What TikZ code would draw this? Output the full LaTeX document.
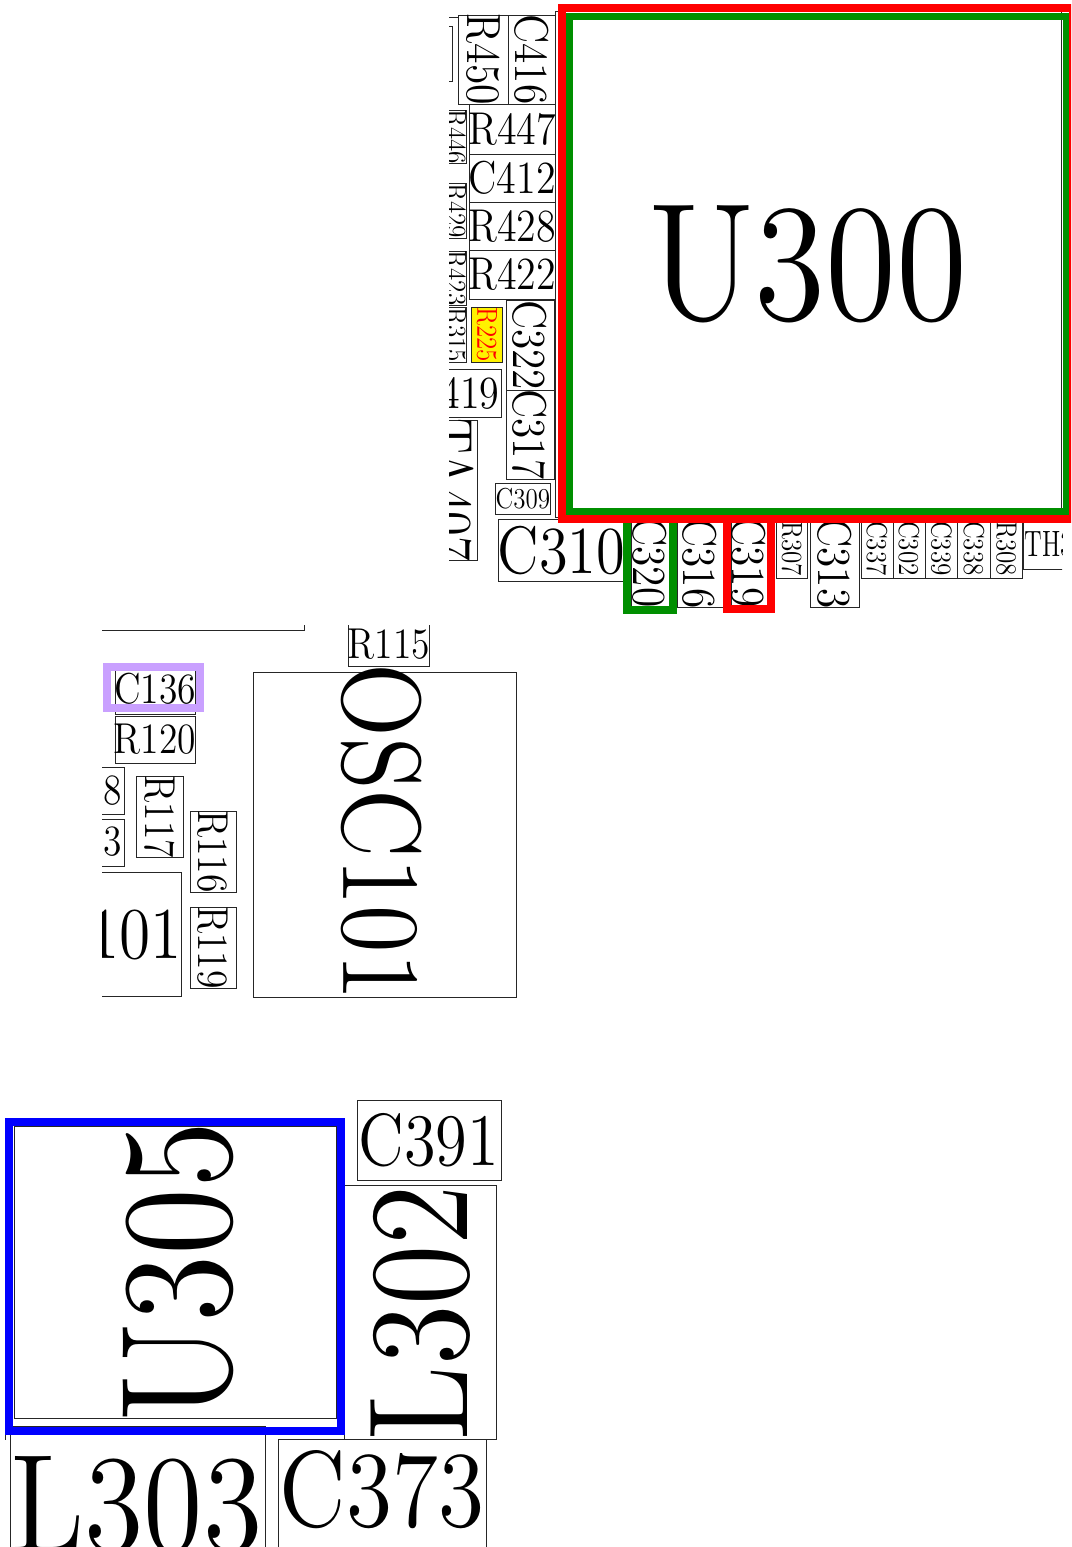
\documentclass[tikz,border=0pt]{standalone}
\usepackage{graphicx}
\definecolor{lavender}{HTML}{C9A0FF}
\definecolor{netgreen}{HTML}{008F00}
\newcommand{\partlbl}[3][.87]{\pgfmathsetmacro\sy{#2/12}\pgfmathsetmacro\sx{\sy*#1}\scalebox{\sx}[\sy]{\fontsize{12}{12}\selectfont #3}}
\tikzset{
  partbox/.style={draw=black!85, line width=.5pt, inner sep=0pt, outer sep=0pt},
  partlabel/.style={inner sep=0pt, outer sep=0pt, text=black},
  partline/.style={draw=black!85, line width=.5pt},
  mark box/.style={line width=#1, line join=miter}
}
\begin{document}
\begin{tikzpicture}[x=.5pt, y=-.5pt]
\useasboundingbox (0,0) rectangle (1071,1547);

% top board area
\begin{scope}
\clip (449,0) rectangle (1062,640);
\draw[partline] (449,17) -- (458,17);
\node[partbox, minimum width=11pt, minimum height=27.5pt] (stub) at (441,53.5) {};
\foreach \name/\xa/\ya/\xb/\yb/\ang/\sz/\txt in {
  Rfourfifty/458/15/508/104/-90/24/R450, Cfoursixteen/508/15/555/104/-90/23.7/C416,
  Rfourfortyseven/469.5/104/555/154/0/23/R447, Cfourtwelve/469.5/154/555/202/0/23/C412,
  Rfourtwentyeight/469.5/202/555/250/0/23/R428, Rfourtwentytwo/469.5/250/555/299.5/0/23/R422,
  Rfourfortysix/445/110/466.7/163/-90/14.4/R446, Rfourtwentynine/445/183/466.7/238/-90/14.4/R429,
  Rfourtwentythree/445/251/466.7/305/-90/14.4/R423, Rthreefifteen/445/307/466.7/362/-90/14.4/R315,
  Cthreetwentytwo/506/300/554/390/-90/23.7/C322, Cthreeseventeen/506/390/554/479/-90/23.7/C317,
  Cthreenine/495/483/550.7/514.7/0/14.4/C309, Cthreeten/498/519/625/581.7/0/33.6/C310,
  Cthreetwenty/631/519/669/606/-90/23.7/C320, Cthreesixteen/677/519/723/607.7/-90/23.7/C316,
  Cthreenineteen/731/519/767/606/-90/23.7/C319, Rthreeseven/776/519/807.7/578/-90/14.4/R307,
  Cthreethirteen/810.7/519/859/607.7/-90/23.7/C313, Cthreethirtyseven/861/519/893/578/-90/14.4/C337,
  Cthreetwo/893/519/925/578/-90/14.4/C302, Cthreethirtynine/925/519/957.7/578/-90/14.4/C339,
  Cthreethirtyeight/957.7/519/990/578/-90/14.4/C338, Rthreeeight/990/519/1022.7/578/-90/14.4/R308,
  Uthreehundred/555/11/1061/517/0/83.4/U300}
{
  \node[partbox, minimum width={(\xb-\xa)*.5pt}, minimum height={(\yb-\ya)*.5pt}] (\name) at ({(\xa+\xb)/2},{(\ya+\yb)/2}) {};
  \node[partlabel, rotate=\ang] (\name text) at (\name) {\partlbl{\sz}{\txt}};
}
\node[partbox, fill=yellow, minimum width=15.3pt, minimum height=27.5pt] (Rtwotwentyfive) at (487,334.5) {};
\node[partlabel, text=red, rotate=-90] (Rtwotwentyfive text) at (Rtwotwentyfive) {\partlbl{14.4}{R225}};
\foreach \name/\xa/\ya/\xb/\yb/\tx/\ty/\ang/\sz/\txt in {
  Cfournineteen/414/369/501.7/417.7/470/393/0/23/419,
  TAfouroseven/430/420.7/477/560.7/453/490/-90/29/TA407}
{
  \node[partbox, minimum width={(\xb-\xa)*.5pt}, minimum height={(\yb-\ya)*.5pt}] (\name) at ({(\xa+\xb)/2},{(\ya+\yb)/2}) {};
  \node[partlabel, rotate=\ang] (\name text) at (\tx,\ty) {\partlbl{\sz}{\txt}};
}
\node[partbox, minimum width=26pt, minimum height=25pt] (THthree) at (1049,544) {};
\node[partlabel] (THthree text) at (1049,544.5) {\partlbl[.68]{18.3}{TH3}};
\end{scope}

% crystal area
\begin{scope}
\clip (102,625) rectangle (517,997.5);
\draw[partline] (102,630.3) -| (304,625);
\foreach \name/\xa/\ya/\xb/\yb/\tx/\ty/\ang/\sz/\txt in {
  Roneonefive/348/620/429.3/666.7/389/644/0/21.6/R115,
  Conethirtysix/115/665/195.5/714/155/689/0/21.6/C136,
  Ronetwenty/115/716/195.5/763/155/739.5/0/21.6/R120,
  Coneeight/90/767.7/124/814/113/791/0/21.6/8,
  Conethree/90/819/124/866/113/842/0/21.6/3,
  Roneseventeen/136.7/776.7/183.7/857.3/160/817/-90/21.6/R117,
  Ronesixteen/190/811/236/892/213/851.5/-90/21.6/R116,
  Ronenineteen/190/907/236/988/213/947.5/-90/21.6/R119,
  Uoneoone/60/872/181.7/996.7/135/935/0/36.5/101,
  OSConeoone/253/672/516/997/382/832/-90/55.7/OSC101}
{
  \node[partbox, minimum width={(\xb-\xa)*.5pt}, minimum height={(\yb-\ya)*.5pt}] (\name) at ({(\xa+\xb)/2},{(\ya+\yb)/2}) {};
  \node[partlabel, rotate=\ang] (\name text) at (\tx,\ty) {\partlbl{\sz}{\txt}};
}
\end{scope}

% power area
\begin{scope}
\clip (0,1090) rectangle (1071,1547);
\draw[partline] (5,1212) -- (5,1440);
\foreach \name/\xa/\ya/\xb/\yb/\tx/\ty/\ang/\sz/\txt in {
  Cthreeninetyone/357.7/1100.7/501/1180/429/1140/0/37/C391,
  Uthreefive/14/1126/336/1418/178/1272/90/78.6/U305,
  Lthreetwo/344/1185/496/1439/421/1313/90/70.8/L302,
  Lthreethree/10.7/1426/265/1570/136.5/1505/0/69.6/L303,
  Cthreeseventythree/278/1439/486.7/1570/382/1490/0/54/C373}
{
  \node[partbox, minimum width={(\xb-\xa)*.5pt}, minimum height={(\yb-\ya)*.5pt}] (\name) at ({(\xa+\xb)/2},{(\ya+\yb)/2}) {};
  \node[partlabel, rotate=\ang] (\name text) at (\tx,\ty) {\partlbl{\sz}{\txt}};
}
\end{scope}

% highlights
\draw[mark box=4pt, draw=netgreen] (627,519) rectangle (673,609.5);
\draw[mark box=4pt, draw=red] (727,519) rectangle (771,609);
\draw[mark box=4pt, draw=lavender] (107,667) rectangle (200,708);
\draw[mark box=4pt, draw=blue] (9,1122) rectangle (340.5,1430.5);
\clip (0,0) rectangle (1071,1547);
\draw[mark box=3.5pt, draw=netgreen] (569.5,16) rectangle (1066,511.5);
\draw[mark box=4pt, draw=red] (562,8) rectangle (1073,519);
\end{tikzpicture}
\end{document}
